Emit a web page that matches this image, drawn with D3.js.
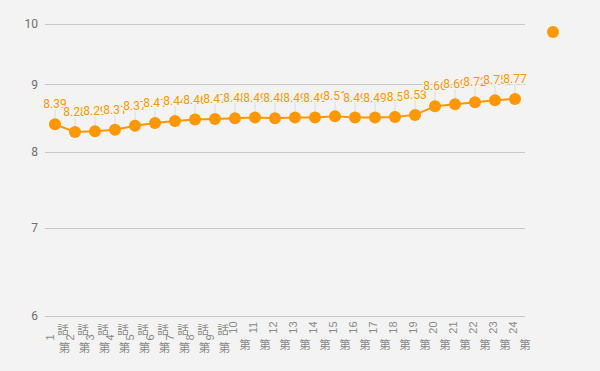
<!DOCTYPE html>
<html>
<head>
<meta charset="utf-8">
<script src="https://cdn.jsdelivr.net/npm/d3@7"></script>
<style>
  html, body { margin: 0; padding: 0; background: #f3f3f3; }
  svg { display: block; font-family: Roboto, "Noto Sans CJK JP", sans-serif; }
</style>
</head>
<body>
<div id="chart"></div>
<script>
const episodes = ["第1話", "第2話", "第3話", "第4話", "第5話", "第6話", "第7話", "第8話",
  "第9話", "第10話", "第11話", "第12話", "第13話", "第14話", "第15話", "第16話",
  "第17話", "第18話", "第19話", "第20話", "第21話", "第22話", "第23話", "第24話"];
const scores = [8.39, 8.28, 8.29, 8.31, 8.37, 8.41, 8.44, 8.46, 8.47, 8.48, 8.49, 8.48,
  8.49, 8.49, 8.51, 8.49, 8.49, 8.5, 8.53, 8.66, 8.69, 8.72, 8.75, 8.77];
const yTicks = [6, 7, 8, 9, 10];

const width = 600;
const height = 371;
const margin = { top: 24, right: 75, bottom: 55, left: 45 };
const orange = "#ff9800";
const bg = "#f3f3f3";

const svg = d3.select("#chart").append("svg")
  .attr("width", width)
  .attr("height", height);

svg.append("rect").attr("width", width).attr("height", height).attr("fill", bg);

const x = d3.scaleBand()
  .domain(episodes)
  .range([margin.left, width - margin.right])
  .padding(0);

const y = d3.scaleLog()
  .domain([6, 10])
  .range([height - margin.bottom, margin.top]);

const cx = (d, i) => x(episodes[i]) + x.bandwidth() / 2;

// grid
svg.append("g")
  .selectAll("line")
  .data(yTicks)
  .join("line")
  .attr("x1", margin.left)
  .attr("x2", width - margin.right)
  .attr("y1", d => Math.round(y(d)) + 0.5)
  .attr("y2", d => Math.round(y(d)) + 0.5)
  .attr("stroke", "#c8c8c8");

// y axis labels
const yAxis = d3.axisLeft(y).tickValues(yTicks).tickFormat(d3.format("d")).tickSize(0).tickPadding(7);
const gy = svg.append("g")
  .attr("transform", `translate(${margin.left},0)`)
  .call(yAxis);
gy.select(".domain").remove();
gy.selectAll("text").attr("fill", "#6e6e6e").attr("font-size", 12).attr("font-family", "Roboto, sans-serif");

// x axis
const xAxis = d3.axisBottom(x).tickSize(0).tickFormat("");
const gx = svg.append("g")
  .attr("transform", `translate(0,${height - margin.bottom})`)
  .call(xAxis);
gx.select(".domain").remove();
gx.selectAll(".tick text").remove();

gx.selectAll(".tick").each(function (d) {
  const g = d3.select(this);
  const num = d.replace("第", "").replace("話", "");
  const twoDigit = num.length > 1;
  g.append("text")
    .attr("transform", twoDigit ? "translate(2,11.5) rotate(-90)" : "translate(-1,21.5) rotate(-90)")
    .attr("text-anchor", "middle")
    .attr("fill", "#8a8a8a")
    .attr("font-size", 11)
    .text(num);
  if (!twoDigit) {
    g.append("text")
      .attr("x", 8)
      .attr("y", 18)
      .attr("text-anchor", "middle")
      .attr("fill", "#8a8a8a")
      .attr("font-size", 11.5)
      .attr("font-family", "'Noto Sans CJK JP', sans-serif")
      .text("話");
  }
  g.append("text")
    .attr("x", twoDigit ? 10 : 9.5)
    .attr("y", twoDigit ? 33 : 36)
    .attr("text-anchor", "middle")
    .attr("fill", "#8a8a8a")
    .attr("font-size", 11.5)
    .attr("font-family", "'Noto Sans CJK JP', sans-serif")
    .text("第");
});

// x axis line
svg.append("line")
  .attr("x1", margin.left)
  .attr("x2", width - margin.right)
  .attr("y1", height - margin.bottom + 0.5)
  .attr("y2", height - margin.bottom + 0.5)
  .attr("stroke", "#c8c8c8");

// label lines
svg.append("g")
  .selectAll("line")
  .data(scores)
  .join("line")
  .attr("x1", cx)
  .attr("x2", cx)
  .attr("y1", d => y(d) - 15)
  .attr("y2", d => y(d))
  .attr("stroke", "#dcdcdc");

// series line
svg.append("path")
  .datum(scores)
  .attr("fill", "none")
  .attr("stroke", orange)
  .attr("stroke-width", 2)
  .attr("d", d3.line().x(cx).y(d => y(d)));

// markers
svg.append("g")
  .selectAll("circle")
  .data(scores)
  .join("circle")
  .attr("cx", cx)
  .attr("cy", d => y(d))
  .attr("r", 6)
  .attr("fill", orange);

// data labels
svg.append("g")
  .selectAll("text")
  .data(scores)
  .join("text")
  .attr("x", cx)
  .attr("y", d => y(d) - 16)
  .attr("text-anchor", "middle")
  .attr("font-size", 12)
  .attr("fill", orange)
  .attr("stroke", bg)
  .attr("stroke-width", 3)
  .attr("paint-order", "stroke")
  .text(d => d);

// legend marker
svg.append("circle")
  .attr("cx", 553)
  .attr("cy", 32)
  .attr("r", 6)
  .attr("fill", orange);
</script>
</body>
</html>
